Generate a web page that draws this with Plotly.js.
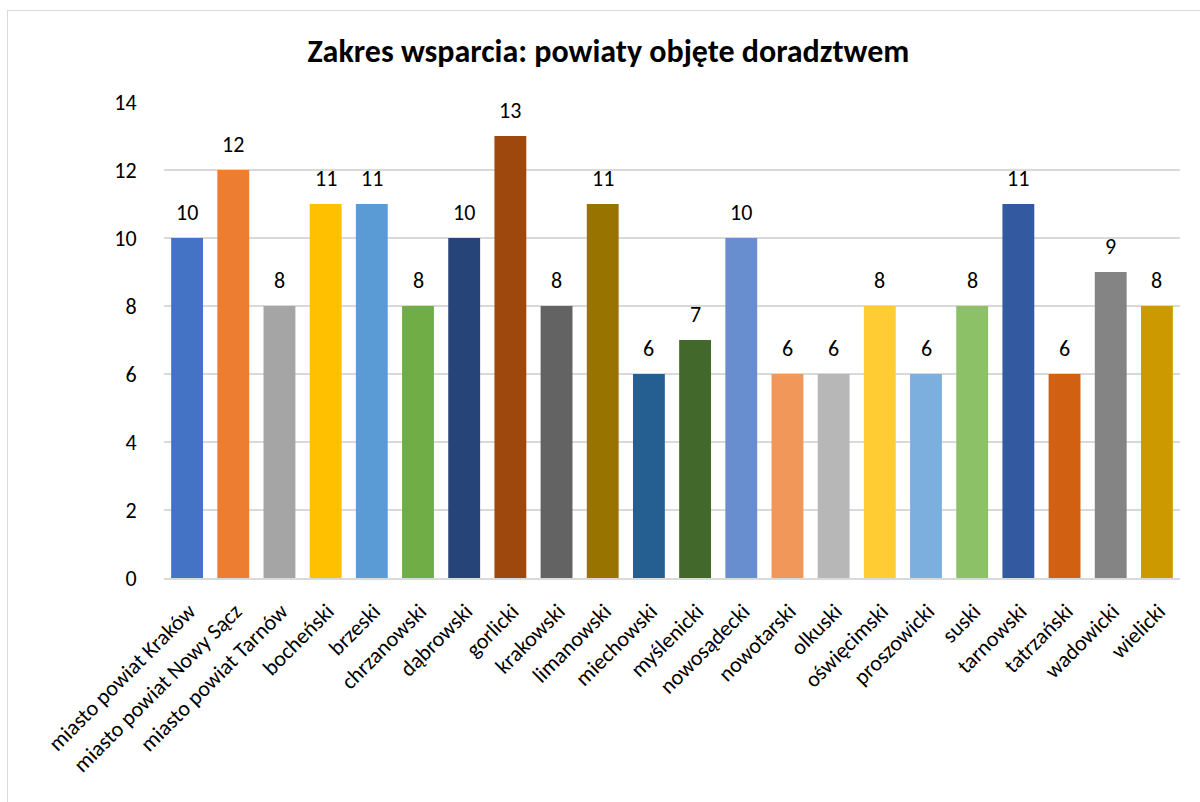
<!DOCTYPE html>
<html>
<head>
<meta charset="utf-8">
<script src="https://cdn.plot.ly/plotly-3.0.1.min.js"></script>
<style>
  html, body { margin: 0; padding: 0; background: #ffffff; }
  #frame { position: absolute; left: 0; top: 0; width: 1200px; height: 802px; overflow: hidden; }
  #border { position: absolute; left: 7px; top: 10px; width: 1300px; height: 900px; border-top: 1px solid #d9d9d9; border-left: 1px solid #d9d9d9; }
  #chart { position: absolute; left: 0; top: 0; width: 1200px; height: 802px; }
</style>
</head>
<body>
<div id="frame">
  <div id="border"></div>
  <div id="chart"></div>
</div>
<script>
const categories = [
  "miasto powiat Kraków", "miasto powiat Nowy Sącz", "miasto powiat Tarnów",
  "bocheński", "brzeski", "chrzanowski", "dąbrowski", "gorlicki", "krakowski",
  "limanowski", "miechowski", "myślenicki", "nowosądecki", "nowotarski",
  "olkuski", "oświęcimski", "proszowicki", "suski", "tarnowski", "tatrzański",
  "wadowicki", "wielicki"
];
const values = [10, 12, 8, 11, 11, 8, 10, 13, 8, 11, 6, 7, 10, 6, 6, 8, 6, 8, 11, 6, 9, 8];
const barColors = [
  "#4472C4", "#ED7D31", "#A5A5A5", "#FFC000", "#5B9BD5", "#70AD47",
  "#264478", "#9E480E", "#636363", "#997300", "#255E91", "#43682B",
  "#698ED0", "#F1975A", "#B7B7B7", "#FFCD33", "#7CAFDD", "#8CC168",
  "#335AA1", "#D26012", "#848484", "#CC9A00"
];
const yTicks = [0, 2, 4, 6, 8, 10, 12, 14];
const titleText = "Zakres wsparcia: powiaty objęte doradztwem";

const FONT = "Calibri, Carlito, Lato, 'Open Sans', sans-serif";

const trace = {
  type: "bar",
  x: categories,
  y: values,
  marker: { color: barColors, line: { width: 0 } },
  width: 0.69,
  hoverinfo: "x+y"
};

const annotations = categories.map((c, i) => ({
  x: c,
  y: values[i],
  xref: "x",
  yref: "y",
  text: String(values[i]),
  showarrow: false,
  yanchor: "middle",
  yshift: 26,
  font: { family: FONT, size: 22, color: "#000000" }
}));

const layout = {
  width: 1200,
  height: 802,
  paper_bgcolor: "rgba(0,0,0,0)",
  plot_bgcolor: "rgba(0,0,0,0)",
  margin: { l: 164, r: 20, t: 102, b: 224 },
  showlegend: false,
  title: {
    text: "<b>" + titleText + "</b>",
    font: { family: FONT, size: 32, color: "#000000" },
    x: 0.507,
    xanchor: "center",
    y: 0.937,
    yanchor: "middle"
  },
  xaxis: {
    type: "category",
    tickangle: -45,
    tickfont: { family: FONT, size: 22, color: "#000000" },
    showgrid: false,
    showline: true,
    linecolor: "#d9d9d9",
    linewidth: 1.5,
    ticks: "outside",
    ticklen: 10,
    tickcolor: "rgba(0,0,0,0)",
    ticklabelshift: 2,
    zeroline: false
  },
  yaxis: {
    range: [0, 14],
    tickvals: yTicks,
    ticktext: yTicks.map(String),
    tickfont: { family: FONT, size: 22, color: "#000000" },
    showgrid: true,
    gridcolor: "#d9d9d9",
    gridwidth: 1.5,
    showline: false,
    zeroline: false,
    ticks: "outside",
    ticklen: 22,
    tickcolor: "rgba(0,0,0,0)"
  },
  annotations: annotations
};

Plotly.newPlot("chart", [trace], layout, { displayModeBar: false, staticPlot: false });
</script>
</body>
</html>
